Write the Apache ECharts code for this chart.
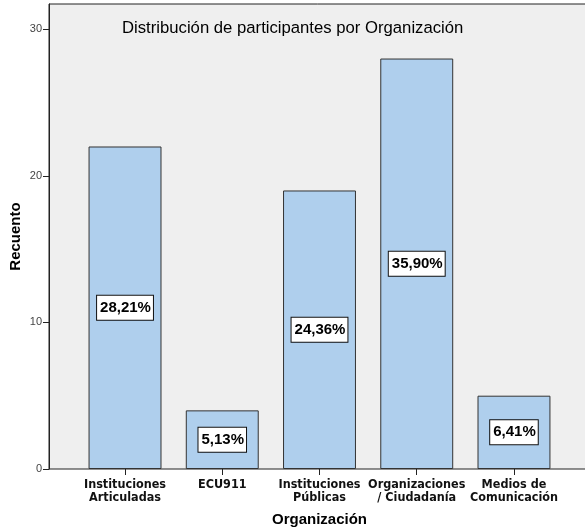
<!DOCTYPE html>
<html>
<head>
<meta charset="utf-8">
<script src="https://cdn.jsdelivr.net/npm/echarts@6/dist/echarts.min.js"></script>
<style>
html,body{margin:0;padding:0;background:#fff;}
#chart{width:585px;height:532px;}
</style>
</head>
<body>
<div id="chart"></div>
<script>
const titleText = 'Distribución de participantes por Organización';
const categories = ['Instituciones\nArticuladas', 'ECU911', 'Instituciones\nPúblicas', 'Organizaciones\n/ Ciudadanía', 'Medios de\nComunicación'];
const counts = [22, 4, 19, 28, 5];
const percentLabels = ['28,21%', '5,13%', '24,36%', '35,90%', '6,41%'];
const yTickValues = [0, 10, 20, 30];
const xAxisName = 'Organización';
const yAxisName = 'Recuento';

const Y_MAX = 31.72;
const chart = echarts.init(document.getElementById('chart'), null, {renderer: 'canvas'});
const baseFont = '"Liberation Sans", Arial, sans-serif';
const narrowFont = '"DejaVu Sans Condensed", "Liberation Sans Narrow", sans-serif';

chart.setOption({
  backgroundColor: '#ffffff',
  animation: false,
  title: {
    text: titleText,
    left: 122,
    top: 20,
    padding: 0,
    textStyle: {fontFamily: baseFont, fontSize: 16.7, fontWeight: 'normal', color: '#000'}
  },
  grid: [
    {left: 49, right: -3, top: 4, bottom: 63, outerBoundsMode: 'none', containLabel: false, show: true, backgroundColor: '#EFEFEF', borderColor: '#222', borderWidth: 1},
    {left: 76.4, right: 22.4, top: 4, bottom: 63, outerBoundsMode: 'none', containLabel: false}
  ],
  xAxis: [
    {gridIndex: 0, type: 'value', show: false, min: 0, max: 1},
    {
      gridIndex: 1, type: 'category', data: categories,
      axisLine: {show: false},
      axisTick: {show: true, alignWithLabel: true, length: 6, lineStyle: {color: '#222', width: 1}},
      axisLabel: {interval: 0, margin: 9, fontFamily: narrowFont, fontSize: 12.5, fontWeight: 'bold', lineHeight: 13, color: '#111'},
      name: xAxisName, nameLocation: 'middle', nameGap: 43, nameMoveOverlap: false,
      nameTextStyle: {fontFamily: baseFont, fontSize: 15, fontWeight: 'bold', color: '#000'}
    }
  ],
  yAxis: [
    {
      gridIndex: 0, type: 'value', min: 0, max: Y_MAX,
      axisLine: {show: true, lineStyle: {color: '#222', width: 1}},
      axisTick: {show: true, length: 6, customValues: yTickValues, lineStyle: {color: '#222'}},
      axisLabel: {customValues: yTickValues, margin: 7, fontFamily: baseFont, fontSize: 11, color: '#444'},
      splitLine: {show: false},
      name: yAxisName, nameLocation: 'middle', nameGap: 26, nameRotate: 90, nameMoveOverlap: false,
      nameTextStyle: {fontFamily: baseFont, fontSize: 15, fontWeight: 'bold', color: '#000'}
    },
    {gridIndex: 1, type: 'value', min: 0, max: Y_MAX, show: false, splitLine: {show: false}}
  ],
  series: [{
    type: 'bar',
    xAxisIndex: 1, yAxisIndex: 1,
    data: counts,
    barWidth: '75%',
    itemStyle: {color: '#AFCFED', borderColor: '#333', borderWidth: 1},
    label: {
      show: true, position: 'inside',
      formatter: p => percentLabels[p.dataIndex],
      fontFamily: baseFont, fontSize: 15, fontWeight: 'bold', color: '#000',
      backgroundColor: '#fff', borderColor: '#111', borderWidth: 1,
      padding: [5, 2, 4, 3]
    }
  }]
});
</script>
</body>
</html>
